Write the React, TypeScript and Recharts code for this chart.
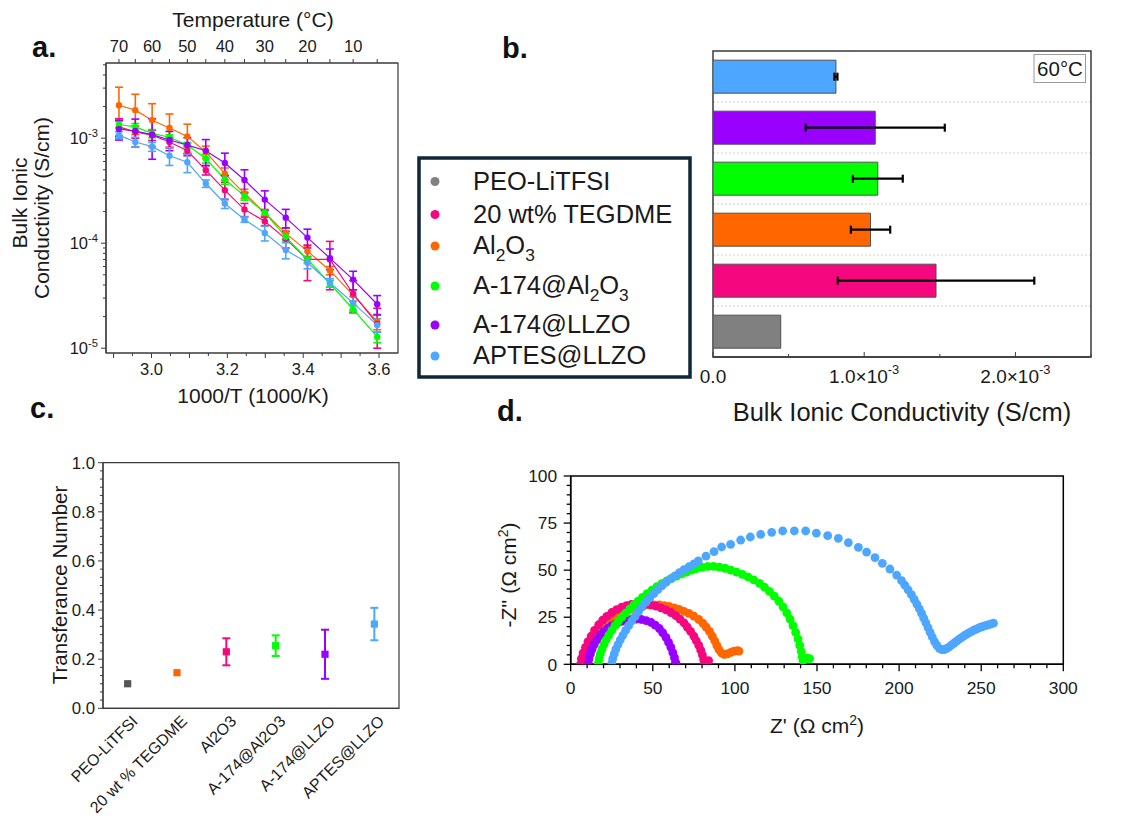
import React from "react";
import {
  LineChart,
  Line,
  BarChart,
  Bar,
  Cell,
  ScatterChart,
  Scatter,
  XAxis,
  YAxis,
  ErrorBar,
  ReferenceArea,
  CartesianGrid,
} from "recharts";

const FONT = '"Liberation Sans", Arial, Helvetica, sans-serif';
const INK = "#1a1a1a";
const AX = "#3a3a3a";

const C_GRAY = "#808080";
const C_PINK = "#f5077f";
const C_ORANGE = "#ff6600";
const C_GREEN = "#00ff00";
const C_PURPLE = "#9900ff";
const C_BLUE = "#4da6ff";

// ---- panel a: Arrhenius data (S/cm) at each temperature ----
const tempsC = [70, 65, 60, 55, 50, 45, 40, 35, 30, 25, 20, 15, 10, 5];
const tegdme = [1.28e-3, 1.15e-3, 1.07e-3, 9.2e-4, 7.6e-4, 4.96e-4, 3.2e-4, 2.09e-4, 1.62e-4, 1.1e-4, 7.0e-5, 7.0e-5, 3.3e-5, 1.7e-5];
const tegdmeErr = [2.5e-4, 1.5e-4, 1.2e-4, 1.0e-4, 8e-5, 5e-5, 6e-5, 3e-5, 1.5e-5, 2e-5, 2.6e-5, 3.4e-5, 1.1e-5, 7e-6];
const al2o3 = [2.06e-3, 1.85e-3, 1.48e-3, 1.25e-3, 1.04e-3, 7.4e-4, 4.6e-4, 2.97e-4, 1.95e-4, 1.24e-4, 8.4e-5, 5.5e-5, 3.2e-5, 1.8e-5];
const al2o3Err = [1.0e-3, 7.7e-4, 6.5e-4, 4.5e-4, 3.2e-4, 1.0e-4, 6e-5, 3e-5, 1.5e-5, 1.5e-5, 1.0e-5, 5e-6, 4e-6, 3e-6];
const a174Al = [1.35e-3, 1.28e-3, 1.11e-3, 1.02e-3, 8.6e-4, 6.4e-4, 4.04e-4, 2.82e-4, 1.95e-4, 1.15e-4, 7.0e-5, 4.13e-5, 2.35e-5, 1.28e-5];
const a174AlErr = [1e-4, 1e-4, 1e-4, 6e-5, 5e-5, 6e-5, 4e-5, 2.5e-5, 1e-5, 1e-5, 5e-6, 3e-6, 2e-6, 1.5e-6];
const a174Llzo = [1.22e-3, 1.17e-3, 1.08e-3, 9.6e-4, 8.6e-4, 7.6e-4, 5.8e-4, 4.0e-4, 2.6e-4, 1.75e-4, 1.13e-4, 7.2e-5, 4.5e-5, 2.62e-5];
const a174LlzoErr = [2.6e-4, 3.5e-4, 4.5e-4, 2.0e-4, 1.5e-4, 2.1e-4, 1.4e-4, 1.0e-4, 5.5e-5, 3.5e-5, 2.3e-5, 1.6e-5, 9e-6, 5.5e-6];
const aptes = [1.07e-3, 9.2e-4, 8.3e-4, 6.8e-4, 5.9e-4, 3.7e-4, 2.39e-4, 1.68e-4, 1.25e-4, 8.6e-5, 6.5e-5, 4.2e-5, 2.7e-5, 1.66e-5];
const aptesErr = [8e-5, 1.0e-4, 8e-5, 1.3e-4, 1.2e-4, 3e-5, 2.5e-5, 1e-5, 2e-5, 1.5e-5, 8e-6, 4e-6, 4e-6, 2.5e-6];

// ---- panel b / legend: conductivity at 60 °C ----
const samples = ["PEO-LiTFSI", "20 wt% TEGDME", "Al2O3", "A-174@Al2O3", "A-174@LLZO", "APTES@LLZO"];
const sampleColors = [C_GRAY, C_PINK, C_ORANGE, C_GREEN, C_PURPLE, C_BLUE];
const cond60 = [4.48e-4, 1.475e-3, 1.042e-3, 1.09e-3, 1.073e-3, 8.13e-4];
const cond60Err = [null, 6.5e-4, 1.3e-4, 1.65e-4, 4.6e-4, 1e-5];

// ---- panel c: transference number ----
const transfLabels = ["PEO-LiTFSI", "20 wt % TEGDME", "Al2O3", "A-174@Al2O3", "A-174@LLZO", "APTES@LLZO"];
const transfColors = ["#555555", C_ORANGE, C_PINK, C_GREEN, C_PURPLE, C_BLUE];
const transf = [0.1, 0.145, 0.23, 0.255, 0.22, 0.343];
const transfErr = [0, 0.008, 0.055, 0.042, 0.1, 0.066];

// ---- panel d: Nyquist plots [Z', -Z''] ----
const nyqPink = [[6, 0], [6.5, 3], [7.5, 6], [9, 9], [10.5, 12], [12.5, 15], [14.5, 18], [17, 21], [19.5, 23.5], [22, 25.5], [25, 27.5], [28, 29], [31, 30.3], [34, 31.2], [37, 31.8], [40, 32], [43, 32.1], [46, 32], [49, 31.6], [52, 30.9], [55, 30], [58, 28.9], [61, 27.5], [64, 25.8], [66.5, 24], [69, 22], [71, 19.8], [73, 17.5], [75, 15], [76.5, 12.5], [78, 10], [79.2, 7.5], [80.2, 5], [81, 2.5], [81.5, 0.8], [84, 2]];
const nyqPurple = [[10.8, 0.5], [11.2, 3], [12, 5.5], [13, 8], [14.3, 10.5], [16, 13], [18, 15.3], [20, 17.2], [22.5, 19], [25, 20.5], [28, 21.8], [31, 22.8], [34, 23.5], [37, 23.9], [40, 24], [43, 23.8], [46, 23.2], [49, 22.2], [51.5, 20.8], [54, 19], [56, 16.8], [58, 14.3], [59.6, 11.6], [61, 9], [62.2, 6.2], [63.2, 3.5], [63.8, 1], [64.2, 0.3]];
const nyqOrange = [[9, 0], [9.5, 3], [10.5, 6], [12, 9], [14, 12], [16, 15], [18.5, 18], [21, 20.5], [24, 22.8], [27, 24.8], [30, 26.5], [33, 28], [36, 29.2], [39, 30.1], [42, 30.8], [45, 31.3], [48, 31.5], [51, 31.6], [54, 31.5], [57, 31.2], [60, 30.7], [63, 30], [66, 29.2], [69, 28.1], [72, 27], [75, 25.6], [78, 23.8], [80.5, 21.8], [82.5, 19.8], [84.5, 17.5], [86.2, 15], [87.7, 12.5], [89, 10], [90.3, 7.8], [91.8, 6], [93.5, 5.2], [95.5, 5.5], [97.5, 6.3], [99.5, 7], [101.5, 7.3], [102.5, 7]];
const nyqGreen = [[16.8, 0.5], [17.3, 3], [18, 5.5], [19, 8], [20.2, 10.5], [21.6, 13], [23.2, 15.5], [25, 18], [27, 20.5], [29, 22.8], [31.2, 25], [33.5, 27.2], [36, 29.4], [38.5, 31.5], [41, 33.5], [43.7, 35.5], [46.5, 37.5], [49.5, 39.4], [52.5, 41.2], [55.5, 42.8], [58.5, 44.3], [61.5, 45.6], [64.5, 46.8], [67.5, 48], [70.5, 49], [73.5, 50], [76.5, 50.8], [80, 51.5], [83.5, 52], [87, 52], [90.5, 51.6], [94, 51], [97.5, 50], [101, 49], [104.5, 47.8], [108, 46.4], [111.5, 44.8], [115, 43], [118, 41], [121, 38.7], [124, 36.2], [126.8, 33.5], [129.3, 30.5], [131.6, 27.3], [133.6, 24], [135.4, 20.5], [137, 17], [138.4, 13.5], [139.5, 10], [140.4, 6.8], [141, 4], [141.5, 2], [142.5, 3], [144, 3.2], [145.5, 3]];
const nyqBlue = [[25, 0.5], [25.6, 3], [26.5, 5.5], [27.5, 8], [28.8, 10.5], [30.2, 13], [31.8, 15.5], [33.5, 18], [35.3, 20.5], [37.2, 23], [39.2, 25.5], [41.3, 28], [43.5, 30.5], [45.8, 33], [48.2, 35.3], [50.6, 37.5], [53, 39.6], [55.5, 41.6], [58, 43.5], [60.7, 45.3], [63.4, 47], [66.2, 48.7], [69, 50.3], [72, 51.8], [75, 53.3], [77.7, 54.9], [82.4, 57.5], [87.3, 59.8], [91.9, 62.3], [97.4, 63.7], [103.5, 66], [109.4, 67.6], [115.7, 69], [122.4, 70.1], [129.1, 70.8], [136.2, 70.8], [143.1, 70.8], [149.6, 69.7], [156.5, 68.3], [163, 66.9], [169.1, 64.6], [175.2, 62.1], [180.2, 59.6], [185.3, 56.6], [189.8, 53.6], [194.4, 50.6], [198.5, 47.4], [201.5, 44.4], [203.5, 42], [205.5, 39.5], [207.5, 37], [209.2, 34.5], [210.8, 32], [212.3, 29.5], [213.7, 27], [215, 24.5], [216.3, 22], [217.6, 19.5], [218.9, 17], [220.2, 14.5], [221.6, 12], [223, 10], [224.5, 8.5], [226, 7.8], [227.5, 7.8], [229, 8.4], [230.5, 9.3], [232, 10.3], [233.5, 11.3], [235, 12.3], [236.5, 13.3], [238, 14.2], [239.5, 15.1], [241, 15.9], [242.5, 16.7], [244, 17.4], [245.5, 18.1], [247, 18.7], [248.5, 19.3], [250, 19.8], [251.5, 20.2], [253, 20.6], [254.5, 21], [256, 21.4], [257.5, 21.8]];

const nyquistSeries = [
  { pts: nyqOrange, color: C_ORANGE },
  { pts: nyqPink, color: C_PINK },
  { pts: nyqPurple, color: C_PURPLE },
  { pts: nyqGreen, color: C_GREEN },
  { pts: nyqBlue, color: C_BLUE },
];

// generic tick: draws its own tick line and label (tickSize/tickMargin set to 0)
function makeTick(o: any) {
  return (props: any) => {
    const { x, y, payload } = props;
    const v = Number(payload.value);
    const L = o.len(v);
    const s = o.inward ? -1 : 1;
    const lab = o.label(v);
    const stroke = o.stroke || AX;
    const sw = o.strokeWidth || 1;
    if (o.side === "left") {
      return (
        <g>
          {L > 0 && <line x1={x} x2={x - s * L} y1={y} y2={y} stroke={stroke} strokeWidth={sw} />}
          {lab != null && (
            <text x={x - o.gap} y={y} dy="0.36em" textAnchor="end" fontSize={o.fontSize} fill={INK} fontFamily={FONT}>
              {lab}
            </text>
          )}
        </g>
      );
    }
    const d = o.side === "bottom" ? 1 : -1;
    return (
      <g>
        {L > 0 && <line x1={x} x2={x} y1={y} y2={y + d * s * L} stroke={stroke} strokeWidth={sw} />}
        {lab != null && (
          <text x={x} y={y + d * o.gap} textAnchor="middle" fontSize={o.fontSize} fill={INK} fontFamily={FONT}>
            {lab}
          </text>
        )}
      </g>
    );
  };
}

const pow10 = (exp: number, size: number) => (
  <>
    10
    <tspan dy={-size * 0.45} fontSize={size * 0.68}>
      {exp}
    </tspan>
  </>
);

function PanelA() {
  const rows = tempsC.map((t, i) => ({
    x: 1000 / (t + 273.15),
    al2o3: al2o3[i],
    al2o3Err: al2o3Err[i],
    tegdme: tegdme[i],
    tegdmeErr: tegdmeErr[i],
    a174Al: a174Al[i],
    a174AlErr: a174AlErr[i],
    a174Llzo: a174Llzo[i],
    a174LlzoErr: a174LlzoErr[i],
    aptes: aptes[i],
    aptesErr: aptesErr[i],
  }));
  const series = [
    { key: "al2o3", color: C_ORANGE },
    { key: "tegdme", color: C_PINK },
    { key: "a174Al", color: C_GREEN },
    { key: "a174Llzo", color: C_PURPLE },
    { key: "aptes", color: C_BLUE },
  ];
  const xTicks = [2.9, 2.95, 3.0, 3.05, 3.1, 3.15, 3.2, 3.25, 3.3, 3.35, 3.4, 3.45, 3.5, 3.55, 3.6];
  const topTicks = tempsC.map((t) => 1000 / (t + 273.15));
  const yTicks: number[] = [];
  for (let e = -5; e <= -3; e++) {
    for (let m = 1; m <= 9; m++) {
      const v = m * Math.pow(10, e);
      if (v <= 5.2e-3) yTicks.push(v);
    }
  }
  const isDecade = (v: number) => Math.abs(Math.log10(v) - Math.round(Math.log10(v))) < 1e-6;
  const xDom: [number, number] = [2.88, 3.65];
  const yDom: [number, number] = [9e-6, 5.2e-3];
  return (
    <LineChart width={410} height={410} data={rows} margin={{ top: 33, right: 12, bottom: 27, left: 66 }}>
      <XAxis
        dataKey="x"
        type="number"
        domain={xDom}
        allowDataOverflow
        ticks={xTicks}
        interval={0}
        height={30}
        tickLine={false}
        tickSize={0}
        tickMargin={0}
        axisLine={{ stroke: AX, strokeWidth: 1.2 }}
        tick={makeTick({
          side: "bottom",
          len: (v: number) => (Math.round(v * 100) % 10 === 0 ? 5 : 3),
          label: (v: number) => (Math.round(v * 100) % 20 === 0 ? v.toFixed(1) : null),
          gap: 22,
          fontSize: 16.5,
        })}
      />
      <XAxis
        xAxisId="top"
        dataKey="x"
        orientation="top"
        type="number"
        domain={xDom}
        allowDataOverflow
        ticks={topTicks}
        interval={0}
        height={30}
        tickLine={false}
        tickSize={0}
        tickMargin={0}
        axisLine={{ stroke: AX, strokeWidth: 1.2 }}
        tick={makeTick({
          side: "top",
          len: () => 4,
          label: (v: number) => {
            const t = Math.round(1000 / v - 273.15);
            return t % 10 === 0 ? String(t) : null;
          },
          gap: 11,
          fontSize: 16.5,
        })}
      />
      <YAxis
        type="number"
        scale="log"
        domain={yDom}
        allowDataOverflow
        ticks={yTicks}
        interval={0}
        width={40}
        tickLine={false}
        tickSize={0}
        tickMargin={0}
        axisLine={{ stroke: AX, strokeWidth: 1.2 }}
        tick={makeTick({
          side: "left",
          len: (v: number) => (isDecade(v) ? 5 : 3),
          label: (v: number) => (isDecade(v) ? pow10(Math.round(Math.log10(v)), 16.5) : null),
          gap: 8,
          fontSize: 16.5,
        })}
      />
      <ReferenceArea x1={xDom[0]} x2={xDom[1]} y1={yDom[0]} y2={yDom[1]} fill="none" stroke={AX} strokeWidth={1.2} ifOverflow="visible" />
      {/* invisible series that ties the temperature axis to the same x values */}
      <Line
        xAxisId="top"
        dataKey="aptes"
        stroke="none"
        dot={false}
        activeDot={false}
        legendType="none"
        isAnimationActive={false}
      />
      {series.map((s) => (
        <Line
          key={s.key}
          type="linear"
          dataKey={s.key}
          stroke={s.color}
          strokeWidth={1.2}
          dot={{ r: 3.2, fill: s.color, stroke: s.color, strokeWidth: 0 }}
          isAnimationActive={false}
        >
          <ErrorBar dataKey={s.key + "Err"} direction="y" width={4} stroke={s.color} strokeWidth={1.6} />
        </Line>
      ))}
    </LineChart>
  );
}

function PanelB() {
  const rows = samples
    .map((name, i) => ({ name, v: cond60[i], err: cond60Err[i], color: sampleColors[i] }))
    .reverse();
  const gridGen = (args: any) => {
    const off = args && args.offset ? args.offset : { top: 51, height: 306 };
    const out: number[] = [];
    for (let i = 1; i < rows.length; i++) out.push(off.top + (off.height * i) / rows.length);
    return out;
  };
  return (
    <BarChart
      layout="vertical"
      width={447}
      height={440}
      data={rows}
      margin={{ top: 51, right: 46, bottom: 53, left: 23 }}
      barCategoryGap="18%"
    >
      <CartesianGrid vertical={false} stroke="#cfcfcf" strokeDasharray="2 2" horizontalCoordinatesGenerator={gridGen} />
      <XAxis
        type="number"
        domain={[0, 0.0025]}
        allowDataOverflow
        ticks={[0, 0.0005, 0.001, 0.0015, 0.002, 0.0025]}
        interval={0}
        height={30}
        tickLine={false}
        tickSize={0}
        tickMargin={0}
        axisLine={{ stroke: AX, strokeWidth: 1.5 }}
        tick={makeTick({
          side: "bottom",
          inward: true,
          len: (v: number) => (Math.round(v * 1e4) % 10 === 0 ? 5 : 3),
          label: (v: number) => {
            const k = Math.round(v * 1e4);
            if (k === 0) return "0.0";
            if (k % 10 === 0) return <>{(k / 10).toFixed(1)}×{pow10(-3, 19)}</>;
            return null;
          },
          gap: 26,
          fontSize: 19,
        })}
      />
      <YAxis type="category" dataKey="name" hide />
      <ReferenceArea x1={0} x2={0.0025} fill="none" stroke={AX} strokeWidth={1.5} ifOverflow="visible" />
      <Bar dataKey="v" stroke="#505050" strokeWidth={1} isAnimationActive={false}>
        {rows.map((r) => (
          <Cell key={r.name} fill={r.color} />
        ))}
        <ErrorBar dataKey="err" direction="x" width={4} stroke="#000" strokeWidth={2.2} />
      </Bar>
    </BarChart>
  );
}

function PanelC() {
  const minor: number[] = [];
  for (let i = 0; i <= 30; i++) minor.push(i / 30);
  const rotTick = (props: any) => {
    const { x, y, payload } = props;
    const lab = transfLabels[Math.round(payload.value)];
    const tx = x + 11;
    const ty = y + 14;
    return (
      <text x={tx} y={ty} transform={`rotate(-45 ${tx} ${ty})`} textAnchor="end" fontSize={16} fill={INK} fontFamily={FONT}>
        {lab}
      </text>
    );
  };
  const square = (color: string) => (p: any) => <rect x={p.cx - 3.6} y={p.cy - 3.6} width={7.2} height={7.2} fill={color} />;
  return (
    <ScatterChart width={410} height={398} margin={{ top: 42.7, right: 11, bottom: 19.7, left: 63 }}>
      <XAxis
        type="number"
        dataKey="x"
        domain={[-0.5, 5.5]}
        ticks={[0, 1, 2, 3, 4, 5]}
        interval={0}
        height={90}
        tickLine={false}
        tickSize={0}
        tickMargin={0}
        axisLine={{ stroke: AX, strokeWidth: 1.2 }}
        tick={rotTick}
      />
      <YAxis
        type="number"
        dataKey="y"
        domain={[0, 1]}
        ticks={minor}
        interval={0}
        width={40}
        tickLine={false}
        tickSize={0}
        tickMargin={0}
        axisLine={{ stroke: AX, strokeWidth: 1.2 }}
        tick={makeTick({
          side: "left",
          len: (v: number) => (Math.round(v * 30) % 6 === 0 ? 5 : 3),
          label: (v: number) => (Math.round(v * 30) % 6 === 0 ? v.toFixed(1) : null),
          gap: 8,
          fontSize: 16.8,
        })}
      />
      <ReferenceArea x1={-0.5} x2={5.5} y1={0} y2={1} fill="none" stroke={AX} strokeWidth={1.2} ifOverflow="visible" />
      {transf.map((v, i) => (
        <Scatter
          key={transfLabels[i]}
          data={[{ x: i, y: v, err: transfErr[i] }]}
          fill={transfColors[i]}
          shape={square(transfColors[i])}
          isAnimationActive={false}
        >
          {transfErr[i] > 0.01 && <ErrorBar dataKey="err" direction="y" width={4} stroke={transfColors[i]} strokeWidth={2} />}
        </Scatter>
      ))}
    </ScatterChart>
  );
}

function PanelD() {
  const xTicks: number[] = [];
  for (let v = 0; v <= 300; v += 10) xTicks.push(v);
  const yTicks: number[] = [];
  for (let v = 0; v <= 100; v += 5) yTicks.push(v);
  const dot = (color: string) => (p: any) => <circle cx={p.cx} cy={p.cy} r={4.4} fill={color} />;
  return (
    <ScatterChart width={667} height={398} margin={{ top: 56, right: 73.7, bottom: 123.7, left: 60.7 }}>
      <XAxis
        type="number"
        dataKey="x"
        domain={[0, 300]}
        allowDataOverflow
        ticks={xTicks}
        interval={0}
        height={30}
        tickLine={false}
        tickSize={0}
        tickMargin={0}
        axisLine={{ stroke: "#000", strokeWidth: 1.5 }}
        tick={makeTick({
          side: "bottom",
          len: (v: number) => (v % 50 === 0 ? 7 : 4),
          label: (v: number) => (v % 50 === 0 ? String(v) : null),
          gap: 30,
          fontSize: 17.4,
          stroke: "#000",
          strokeWidth: 1.3,
        })}
      />
      <YAxis
        type="number"
        dataKey="y"
        domain={[0, 100]}
        allowDataOverflow
        ticks={yTicks}
        interval={0}
        width={40}
        tickLine={false}
        tickSize={0}
        tickMargin={0}
        axisLine={{ stroke: "#000", strokeWidth: 1.5 }}
        tick={makeTick({
          side: "left",
          len: (v: number) => (v % 25 === 0 ? 7 : 4),
          label: (v: number) => (v % 25 === 0 ? String(v) : null),
          gap: 13.5,
          fontSize: 17.4,
          stroke: "#000",
          strokeWidth: 1.3,
        })}
      />
      <ReferenceArea x1={0} x2={300} y1={0} y2={100} fill="none" stroke="#000" strokeWidth={1.5} ifOverflow="visible" />
      {nyquistSeries.map((s, i) => (
        <Scatter
          key={i}
          data={s.pts.map(([x, y]) => ({ x, y }))}
          fill={s.color}
          shape={dot(s.color)}
          isAnimationActive={false}
        />
      ))}
    </ScatterChart>
  );
}

// chemical names: subscript the digits of Al2O3
function chem(name: string, size: number) {
  const parts = name.split("Al2O3");
  if (parts.length === 1) return name;
  const sub = size * 0.68;
  const d = size * 0.28;
  return (
    <>
      {parts[0]}Al
      <tspan dy={d} fontSize={sub}>2</tspan>
      <tspan dy={-d}>O</tspan>
      <tspan dy={d} fontSize={sub}>3</tspan>
      <tspan dy={-d}>{parts[1]}</tspan>
    </>
  );
}

const legendRowY = [189.5, 222.5, 254, 294, 333, 364];

function Overlay() {
  const bold = { fontFamily: FONT, fontWeight: 700, fontSize: 29, fill: "#111" } as const;
  const txt = { fontFamily: FONT, fill: INK } as const;
  return (
    <svg width={1137} height={818} style={{ position: "absolute", left: 0, top: 0, pointerEvents: "none" }}>
      <text x={32} y={57} {...bold}>a.</text>
      <text x={502} y={58} {...bold}>b.</text>
      <text x={30} y={418} {...bold}>c.</text>
      <text x={497} y={421} {...bold}>d.</text>

      <text x={253} y={27} textAnchor="middle" fontSize={21} {...txt}>Temperature (°C)</text>
      <text x={253} y={403} textAnchor="middle" fontSize={21} {...txt}>1000/T (1000/K)</text>
      <text x={27} y={203} textAnchor="middle" fontSize={21} transform="rotate(-90 27 203)" {...txt}>Bulk Ionic</text>
      <text x={49} y={208} textAnchor="middle" fontSize={21} transform="rotate(-90 49 208)" {...txt}>Conductivity (S/cm)</text>

      <text x={902} y={421} textAnchor="middle" fontSize={25.5} {...txt}>Bulk Ionic Conductivity (S/cm)</text>
      <rect x={1034} y={54.5} width={51.5} height={28} fill="#fff" stroke="#9a9a9a" strokeWidth={1} />
      <text x={1060} y={76} textAnchor="middle" fontSize={20.5} {...txt}>60°C</text>

      <rect x={419} y={158} width={271} height={219} fill="#fff" stroke="#0f2738" strokeWidth={3.5} />
      {samples.map((s, i) => (
        <g key={s}>
          <circle cx={435} cy={legendRowY[i] - 8} r={4.5} fill={sampleColors[i]} />
          <text x={473} y={legendRowY[i]} fontSize={25.5} {...txt}>
            {chem(s, 25.5)}
          </text>
        </g>
      ))}

      <text x={67} y={585} textAnchor="middle" fontSize={20.5} transform="rotate(-90 67 585)" {...txt}>Transferance Number</text>

      <text x={817} y={733} textAnchor="middle" fontSize={21} {...txt}>
        Z' (Ω cm<tspan dy={-8} fontSize={14}>2</tspan><tspan dy={8}>)</tspan>
      </text>
      <text x={516} y={575} textAnchor="middle" fontSize={21} transform="rotate(-90 516 575)" {...txt}>
        -Z'' (Ω cm<tspan dy={-8} fontSize={14}>2</tspan><tspan dy={8}>)</tspan>
      </text>
    </svg>
  );
}

export default function App() {
  return (
    <div style={{ position: "absolute", left: 0, top: 0, width: 1137, height: 818, background: "#fff", overflow: "hidden", fontFamily: FONT }}>
      <div style={{ position: "absolute", left: 0, top: 0 }}>
        <PanelA />
      </div>
      <div style={{ position: "absolute", left: 690, top: 0 }}>
        <PanelB />
      </div>
      <div style={{ position: "absolute", left: 0, top: 420 }}>
        <PanelC />
      </div>
      <div style={{ position: "absolute", left: 470, top: 420 }}>
        <PanelD />
      </div>
      <Overlay />
    </div>
  );
}
